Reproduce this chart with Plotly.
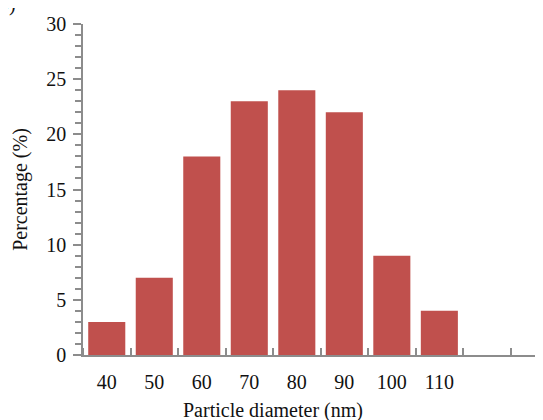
import plotly.graph_objects as go

diameters = [40, 50, 60, 70, 80, 90, 100, 110]
percentages = [3, 7, 18, 23, 24, 22, 9, 4]
tick_labels = ["40", "50", "60", "70", "80", "90", "100", "110"]
y_ticks = [0, 5, 10, 15, 20, 25, 30]

FONT = "Liberation Serif"
AXIS_COLOR = "#8c8c8c"
TXT = "#111111"
FS = 20

fig = go.Figure(go.Bar(
    x=diameters, y=percentages, width=7.8,
    marker=dict(color="#C0504D", line=dict(width=0)),
))

# the page body adds an 8px offset, so margins compensate for it
fig.update_layout(
    width=543, height=420,
    margin=dict(l=75, r=0, t=16, b=73, autoexpand=False),
    plot_bgcolor="white", paper_bgcolor="white",
    showlegend=False,
    font=dict(family=FONT, size=FS, color=TXT),
    xaxis=dict(
        range=[35, 133.5], automargin=False,
        tickvals=diameters, ticktext=tick_labels,
        ticks="", showgrid=False, zeroline=False,
        showline=True, linecolor=AXIS_COLOR, linewidth=1.5,
        tickfont=dict(family=FONT, size=FS, color=TXT),
        ticklabelstandoff=8,
        minor=dict(tick0=45, dtick=10, ticks="inside", ticklen=7,
                   tickcolor=AXIS_COLOR, tickwidth=1.5, showgrid=False),
    ),
    yaxis=dict(
        range=[0, 30], tickvals=y_ticks, automargin=False,
        ticks="outside", ticklen=8, tickcolor=AXIS_COLOR, tickwidth=1.5,
        showgrid=False, zeroline=False,
        showline=True, linecolor=AXIS_COLOR, linewidth=1.5,
        tickfont=dict(family=FONT, size=FS, color=TXT),
        ticklabelstandoff=3,
        title=dict(text="Percentage (%)", font=dict(family=FONT, size=FS, color=TXT), standoff=13),
        minor=dict(dtick=1, ticks="outside", ticklen=6, tickcolor=AXIS_COLOR,
                   tickwidth=1.5, showgrid=False),
    ),
    annotations=[
        dict(text="Particle diameter (nm)", x=75, xref="x", y=0, yref="paper",
             yshift=-55, showarrow=False, font=dict(family=FONT, size=FS, color=TXT),
             xanchor="center", yanchor="middle"),
        dict(text="b)", x=0, xref="paper", y=1, yref="paper", xshift=-86, yshift=20,
             showarrow=False, font=dict(family=FONT, size=FS, color=TXT),
             xanchor="left", yanchor="middle"),
    ],
)

fig.write_html("out.html")
